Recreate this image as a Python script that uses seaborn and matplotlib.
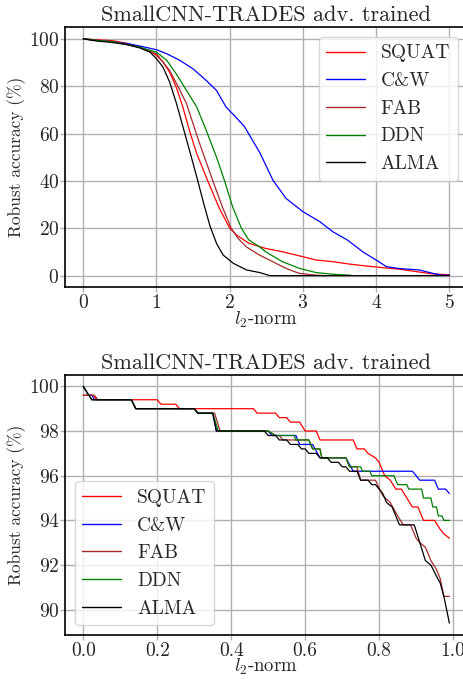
import numpy as np
import pandas as pd
import matplotlib
matplotlib.use("Agg")
import matplotlib.pyplot as plt
import seaborn as sns

# ---------------- data: top panel (full range) ----------------
top_squat_x = [0, 0.2, 0.4, 0.6, 0.77, 0.91, 1.0, 1.09, 1.18, 1.27, 1.36, 1.45, 1.55, 1.7, 1.85, 2.0, 2.1, 2.26,
               2.49, 2.72, 3.0, 3.18, 3.41, 3.63, 3.86, 4.05, 4.32, 4.55, 4.78, 5.0]
top_squat_y = [100, 99.6, 99.2, 98.1, 96.5, 94.8, 93.0, 90.2, 85.9, 79.6, 71.2, 61.3, 51.5, 40, 29, 20, 17.0, 13.7,
               11.5, 10.1, 8.0, 6.6, 5.9, 4.9, 4.1, 3.5, 2.7, 1.7, 0.7, 0.4]

top_cw_x = [0, 0.2, 0.4, 0.6, 0.8, 1.0, 1.14, 1.32, 1.5, 1.68, 1.82, 1.95, 2.05, 2.2, 2.41, 2.59, 2.77, 3.0, 3.23,
            3.41, 3.61, 3.82, 4.0, 4.14, 4.32, 4.59, 4.77, 4.9, 5.0]
top_cw_y = [100, 99.3, 98.8, 98.0, 96.8, 95.4, 93.7, 90.9, 87.3, 82.4, 78.2, 71.2, 68.0, 63.0, 52.0, 40.3, 32.6, 27.0,
            22.8, 18.5, 15.0, 10.0, 6.6, 3.8, 3.0, 2.4, 1.0, 0.2, 0.2]

top_fab_x = [0, 0.2, 0.4, 0.6, 0.77, 0.91, 1.0, 1.18, 1.3, 1.41, 1.5, 1.59, 1.77, 1.9, 2.02, 2.12, 2.23, 2.4,
             2.55, 2.72, 2.83, 2.95, 3.1, 3.3]
top_fab_y = [100, 99.3, 98.8, 97.6, 96.3, 94.6, 93.7, 86.6, 79.6, 72.6, 64.1, 55.7, 40, 29, 20, 15.5, 12.1, 8.8,
             6.5, 3.8, 2.3, 1.0, 0.4, 0]

top_ddn_x = [0, 0.2, 0.4, 0.6, 0.77, 0.91, 1.0, 1.14, 1.27, 1.41, 1.55, 1.68, 1.82, 1.93, 2.04, 2.16, 2.26, 2.41,
             2.49, 2.72, 2.95, 3.18, 3.41, 3.65]
top_ddn_y = [100, 99.3, 98.8, 97.6, 96.5, 95.2, 94.4, 90.9, 85.2, 78.2, 71.2, 61.3, 50, 40, 29, 20, 15.1, 12.1,
             10.1, 5.9, 3.1, 1.3, 0.6, 0.2]

top_alma_x = [0, 0.2, 0.36, 0.59, 0.77, 0.91, 1.0, 1.09, 1.18, 1.27, 1.36, 1.45, 1.55, 1.64, 1.73, 1.82, 1.91,
              2.05, 2.23, 2.41, 2.55, 5.0]
top_alma_y = [100, 99.0, 98.6, 97.6, 96.2, 94.4, 91.6, 88.0, 81.7, 73.0, 63.0, 53.0, 41.7, 31.0, 21.0, 13.6, 8.7,
              5.2, 2.4, 1.3, 0, 0]

# ---------------- data: bottom panel (zoom 0..1) ----------------
bot_squat_x = [0, 0.027, 0.036, 0.2, 0.21, 0.25, 0.26, 0.46, 0.47, 0.52, 0.53, 0.55, 0.56, 0.585, 0.6, 0.63,
               0.64, 0.73, 0.74, 0.76, 0.77, 0.79, 0.8, 0.815, 0.83, 0.845, 0.86, 0.875, 0.89, 0.905, 0.92,
               0.95, 0.965, 0.975, 0.99]
bot_squat_y = [99.6, 99.6, 99.4, 99.4, 99.2, 99.2, 99.0, 99.0, 98.8, 98.8, 98.6, 98.6, 98.4, 98.4, 98.0, 98.0,
               97.6, 97.6, 97.2, 97.2, 97.0, 96.8, 96.6, 96.0, 95.8, 95.4, 95.4, 95.0, 94.6, 94.6, 94.0,
               94.0, 93.6, 93.4, 93.2]

bot_cw_x = [0, 0.014, 0.023, 0.03, 0.13, 0.142, 0.30, 0.31, 0.35, 0.36, 0.50, 0.51, 0.575, 0.585, 0.62, 0.64,
            0.71, 0.73, 0.89, 0.91, 0.95, 0.96, 0.98, 0.99]
bot_cw_y = [100, 99.6, 99.6, 99.4, 99.4, 99.0, 99.0, 98.8, 98.8, 98.0, 98.0, 97.8, 97.8, 97.4, 97.4, 96.8,
            96.8, 96.2, 96.2, 95.8, 95.8, 95.4, 95.4, 95.2]

bot_fab_x = [0, 0.03, 0.04, 0.13, 0.142, 0.30, 0.31, 0.355, 0.37, 0.50, 0.52, 0.53, 0.54, 0.61, 0.62, 0.64,
             0.645, 0.71, 0.72, 0.74, 0.75, 0.79, 0.81, 0.83, 0.85, 0.865, 0.885, 0.90, 0.91, 0.925, 0.94,
             0.955, 0.965, 0.975, 0.99]
bot_fab_y = [99.6, 99.6, 99.4, 99.4, 99.0, 99.0, 98.8, 98.8, 98.0, 98.0, 97.8, 97.8, 97.6, 97.6, 97.2, 97.2,
             96.8, 96.8, 96.4, 96.4, 95.8, 95.8, 95.1, 94.8, 94.2, 93.8, 93.8, 93.2, 93.0, 92.8, 92.2,
             91.8, 91.4, 90.6, 90.6]

bot_ddn_x = [0, 0.023, 0.13, 0.142, 0.30, 0.31, 0.35, 0.365, 0.50, 0.52, 0.57, 0.575, 0.61, 0.62, 0.64, 0.645,
             0.71, 0.72, 0.75, 0.755, 0.775, 0.78, 0.84, 0.85, 0.875, 0.88, 0.915, 0.92, 0.94, 0.945, 0.955,
             0.96, 0.97, 0.975, 0.99]
bot_ddn_y = [100, 99.4, 99.4, 99.0, 99.0, 98.8, 98.8, 98.0, 98.0, 97.8, 97.8, 97.6, 97.6, 97.2, 97.2, 96.8,
             96.8, 96.4, 96.4, 96.2, 96.2, 96.0, 96.0, 95.6, 95.6, 95.4, 95.4, 95.0, 95.0, 94.6, 94.6,
             94.2, 94.2, 94.0, 94.0]

bot_alma_x = [0, 0.023, 0.13, 0.142, 0.30, 0.31, 0.35, 0.36, 0.49, 0.50, 0.52, 0.53, 0.55, 0.56, 0.58, 0.59,
              0.60, 0.61, 0.63, 0.64, 0.66, 0.67, 0.69, 0.70, 0.71, 0.72, 0.74, 0.75, 0.77, 0.78, 0.79,
              0.80, 0.81, 0.82, 0.835, 0.845, 0.855, 0.87, 0.895, 0.91, 0.925, 0.94, 0.955, 0.965, 0.975, 0.99]
bot_alma_y = [100, 99.4, 99.4, 99.0, 99.0, 98.8, 98.8, 98.0, 98.0, 97.8, 97.8, 97.6, 97.6, 97.4, 97.4, 97.2,
              97.2, 97.0, 97.0, 96.8, 96.8, 96.6, 96.6, 96.4, 96.4, 96.2, 96.2, 95.8, 95.8, 95.6, 95.6,
              95.4, 95.2, 94.8, 94.6, 94.2, 93.8, 93.8, 93.8, 93.0, 92.2, 92.0, 91.5, 91.2, 90.6, 89.4]

attacks = ["SQUAT", "C&W", "FAB", "DDN", "ALMA"]
colors = {"SQUAT": "red", "C&W": "blue", "FAB": "brown", "DDN": "green", "ALMA": "black"}

top_series = {"SQUAT": (top_squat_x, top_squat_y), "C&W": (top_cw_x, top_cw_y), "FAB": (top_fab_x, top_fab_y),
              "DDN": (top_ddn_x, top_ddn_y), "ALMA": (top_alma_x, top_alma_y)}
bot_series = {"SQUAT": (bot_squat_x, bot_squat_y), "C&W": (bot_cw_x, bot_cw_y), "FAB": (bot_fab_x, bot_fab_y),
              "DDN": (bot_ddn_x, bot_ddn_y), "ALMA": (bot_alma_x, bot_alma_y)}

title = "SmallCNN-TRADES adv. trained"
xlabel = r"$l_2$-norm"
ylabel = "Robust accuracy (%)"

# ---------------- style ----------------
sns.set_theme(style="ticks")
plt.rcParams.update({
    "font.family": ["cmr10", "DejaVu Serif"],
    "mathtext.fontset": "cm",
    "axes.unicode_minus": False,
    "axes.formatter.use_mathtext": True,
    "text.color": ".15",
    "axes.labelcolor": ".15",
    "xtick.color": ".15",
    "ytick.color": ".15",
    "axes.edgecolor": "black",
    "axes.linewidth": 1.2,
})

fig, axes = plt.subplots(2, 1, figsize=(4.64, 6.79), dpi=100)
fig.subplots_adjust(left=0.140, right=1.008, top=1 - 27 / 679, bottom=0.0648, hspace=0.334)


def draw(ax, series, legend_loc):
    for name in attacks:
        xs, ys = series[name]
        df = pd.DataFrame({"x": xs, "y": ys})
        sns.lineplot(data=df, x="x", y="y", ax=ax, color=colors[name], label=name,
                     linewidth=0.9, estimator=None, sort=False)
    ax.grid(True, color="#b0b0b0", linewidth=1.0)
    ax.set_axisbelow(True)
    ax.set_title(title, fontsize=16, pad=4)
    ax.set_xlabel(xlabel, fontsize=13.5, labelpad=-2)
    ax.set_ylabel(ylabel, fontsize=12.5, labelpad=2)
    ax.tick_params(axis="both", which="major", labelsize=14, length=3.5, width=1.0,
                   color="#b0b0b0")
    ax.tick_params(axis="y", pad=0.5)
    ax.tick_params(axis="x", pad=1.5)
    for sp in ax.spines.values():
        sp.set_color("black")
        sp.set_linewidth(1.2)
    leg = ax.legend(loc=legend_loc, fontsize=14, frameon=True, framealpha=0.8,
                    edgecolor="0.8", fancybox=True, handlelength=2.0)
    for line in leg.get_lines():
        line.set_linewidth(1.0)


draw(axes[0], top_series, "upper right")
axes[0].set_xticks([0, 1, 2, 3, 4, 5])
axes[0].set_yticks([0, 20, 40, 60, 80, 100])

draw(axes[1], bot_series, "lower left")
axes[1].set_xticks([0.0, 0.2, 0.4, 0.6, 0.8, 1.0])
axes[1].set_yticks([90, 92, 94, 96, 98, 100])
axes[1].xaxis.set_major_formatter(matplotlib.ticker.FormatStrFormatter("%.1f"))

fig.savefig("out.png", dpi=100)
